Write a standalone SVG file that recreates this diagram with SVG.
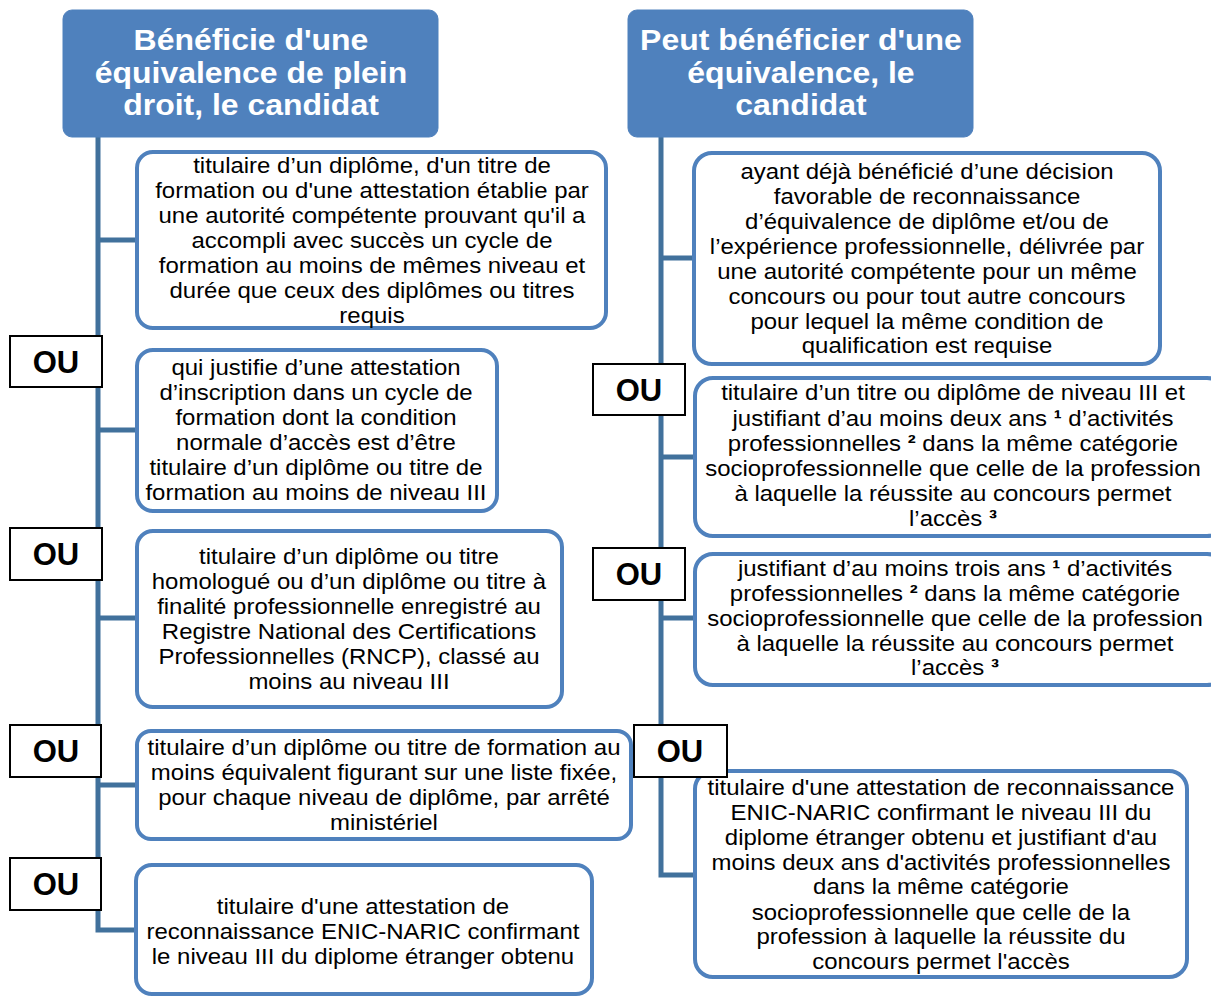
<svg xmlns="http://www.w3.org/2000/svg" width="1211" height="996" viewBox="0 0 1211 996">
<style>
.hdr{fill:#4F81BD;stroke:#4F81BD;stroke-width:1}
.ht{font-family:"Liberation Sans",Arial,sans-serif;font-weight:bold;font-size:30px;fill:#FFFFFF;text-anchor:middle;transform-box:fill-box;transform-origin:center;transform:scaleX(1.065)}
.box{fill:#FFFFFF;stroke:#4F81BD;stroke-width:4}
.bt{font-family:"Liberation Sans",Arial,sans-serif;font-size:22px;fill:#000000;text-anchor:middle;transform-box:fill-box;transform-origin:center;transform:scaleX(1.09)}
.ou{fill:#FFFFFF;stroke:#000000;stroke-width:2}
.ot{font-family:"Liberation Sans",Arial,sans-serif;font-weight:bold;font-size:31px;fill:#000000;text-anchor:middle}
.con{fill:none;stroke:#41719C;stroke-width:5}
.sup{font-weight:bold}
</style>
<rect width="1211" height="996" fill="#FFFFFF"/>
<g id="connectors">
<path class="con" d="M98,137 V930 H137"/>
<path class="con" d="M98,240 H137 M98,430 H137 M98,618 H137 M98,785 H137"/>
<path class="con" d="M661,137 V875 H694"/>
<path class="con" d="M661,258 H694 M661,457 H694 M661,618 H694"/>
</g>
<g id="header-left">
<rect class="hdr" x="63" y="10" width="375" height="127" rx="9"/>
<text class="ht" x="251" y="50">Bénéficie d'une</text>
<text class="ht" x="251" y="83">équivalence de plein</text>
<text class="ht" x="251" y="115">droit, le candidat</text>
</g>
<g id="header-right">
<rect class="hdr" x="628" y="10" width="345" height="127" rx="9"/>
<text class="ht" x="801" y="50">Peut bénéficier d'une</text>
<text class="ht" x="801" y="83">équivalence, le</text>
<text class="ht" x="801" y="115">candidat</text>
</g>
<g id="left-1">
<rect class="box" x="137" y="152" width="469" height="176" rx="16"/>
<text class="bt" x="372" y="173">titulaire d’un diplôme, d'un titre de</text>
<text class="bt" x="372" y="198">formation ou d'une attestation établie par</text>
<text class="bt" x="372" y="223">une autorité compétente prouvant qu'il a</text>
<text class="bt" x="372" y="248">accompli avec succès un cycle de</text>
<text class="bt" x="372" y="273">formation au moins de mêmes niveau et</text>
<text class="bt" x="372" y="298">durée que ceux des diplômes ou titres</text>
<text class="bt" x="372" y="323">requis</text>
</g>
<g id="ou-l1">
<rect class="ou" x="10" y="336" width="92" height="51"/>
<text class="ot" x="56" y="373">OU</text>
</g>
<g id="left-2">
<rect class="box" x="137" y="350" width="360" height="161" rx="16"/>
<text class="bt" x="316" y="375">qui justifie d’une attestation</text>
<text class="bt" x="316" y="400">d’inscription dans un cycle de</text>
<text class="bt" x="316" y="425">formation dont la condition</text>
<text class="bt" x="316" y="450">normale d’accès est d’être</text>
<text class="bt" x="316" y="475">titulaire d’un diplôme ou titre de</text>
<text class="bt" x="316" y="500">formation au moins de niveau III</text>
</g>
<g id="ou-l2">
<rect class="ou" x="10" y="528" width="92" height="52"/>
<text class="ot" x="56" y="565">OU</text>
</g>
<g id="left-3">
<rect class="box" x="137" y="531" width="425" height="176" rx="16"/>
<text class="bt" x="349" y="564">titulaire d’un diplôme ou titre</text>
<text class="bt" x="349" y="589">homologué ou d’un diplôme ou titre à</text>
<text class="bt" x="349" y="614">finalité professionnelle enregistré au</text>
<text class="bt" x="349" y="639">Registre National des Certifications</text>
<text class="bt" x="349" y="664">Professionnelles (RNCP), classé au</text>
<text class="bt" x="349" y="689">moins au niveau III</text>
</g>
<g id="ou-l3">
<rect class="ou" x="10" y="725" width="91" height="52"/>
<text class="ot" x="56" y="762">OU</text>
</g>
<g id="left-4">
<rect class="box" x="137" y="731" width="494" height="108" rx="14"/>
<text class="bt" x="384" y="755">titulaire d’un diplôme ou titre de formation au</text>
<text class="bt" x="384" y="780">moins équivalent figurant sur une liste fixée,</text>
<text class="bt" x="384" y="805">pour chaque niveau de diplôme, par arrêté</text>
<text class="bt" x="384" y="830">ministériel</text>
</g>
<g id="ou-l4">
<rect class="ou" x="10" y="858" width="91" height="52"/>
<text class="ot" x="56" y="895">OU</text>
</g>
<g id="left-5">
<rect class="box" x="136" y="865" width="456" height="129" rx="16"/>
<text class="bt" x="363" y="914">titulaire d'une attestation de</text>
<text class="bt" x="363" y="939">reconnaissance ENIC-NARIC confirmant</text>
<text class="bt" x="363" y="964">le niveau III du diplome étranger obtenu</text>
</g>
<g id="right-1">
<rect class="box" x="694" y="153" width="466" height="211" rx="18"/>
<text class="bt" x="927" y="179">ayant déjà bénéficié d’une décision</text>
<text class="bt" x="927" y="204">favorable de reconnaissance</text>
<text class="bt" x="927" y="229">d’équivalence de diplôme et/ou de</text>
<text class="bt" x="927" y="254">l’expérience professionnelle, délivrée par</text>
<text class="bt" x="927" y="279">une autorité compétente pour un même</text>
<text class="bt" x="927" y="304">concours ou pour tout autre concours</text>
<text class="bt" x="927" y="329">pour lequel la même condition de</text>
<text class="bt" x="927" y="353">qualification est requise</text>
</g>
<g id="ou-r1">
<rect class="ou" x="593" y="364" width="92" height="51"/>
<text class="ot" x="639" y="401">OU</text>
</g>
<g id="right-2">
<rect class="box" x="695" y="378" width="530" height="158" rx="18"/>
<text class="bt" x="953" y="400">titulaire d’un titre ou diplôme de niveau III et</text>
<text class="bt" x="953" y="426">justifiant d’au moins deux ans <tspan class="sup">¹</tspan> d’activités</text>
<text class="bt" x="953" y="451">professionnelles <tspan class="sup">²</tspan> dans la même catégorie</text>
<text class="bt" x="953" y="476">socioprofessionnelle que celle de la profession</text>
<text class="bt" x="953" y="501">à laquelle la réussite au concours permet</text>
<text class="bt" x="953" y="526">l’accès <tspan class="sup">³</tspan></text>
</g>
<g id="ou-r2">
<rect class="ou" x="593" y="548" width="92" height="52"/>
<text class="ot" x="639" y="585">OU</text>
</g>
<g id="right-3">
<rect class="box" x="695" y="554" width="530" height="131" rx="18"/>
<text class="bt" x="955" y="576">justifiant d’au moins trois ans <tspan class="sup">¹</tspan> d’activités</text>
<text class="bt" x="955" y="601">professionnelles <tspan class="sup">²</tspan> dans la même catégorie</text>
<text class="bt" x="955" y="626">socioprofessionnelle que celle de la profession</text>
<text class="bt" x="955" y="651">à laquelle la réussite au concours permet</text>
<text class="bt" x="955" y="675">l’accès <tspan class="sup">³</tspan></text>
</g>
<g id="right-4">
<rect class="box" x="695" y="771" width="492" height="206" rx="18"/>
<text class="bt" x="941" y="795">titulaire d'une attestation de reconnaissance</text>
<text class="bt" x="941" y="820">ENIC-NARIC confirmant le niveau III du</text>
<text class="bt" x="941" y="845">diplome étranger obtenu et justifiant d'au</text>
<text class="bt" x="941" y="870">moins deux ans d'activités professionnelles</text>
<text class="bt" x="941" y="894">dans la même catégorie</text>
<text class="bt" x="941" y="920">socioprofessionnelle que celle de la</text>
<text class="bt" x="941" y="944">profession à laquelle la réussite du</text>
<text class="bt" x="941" y="969">concours permet l'accès</text>
</g>
<g id="ou-r3">
<rect class="ou" x="634" y="725" width="93" height="52"/>
<text class="ot" x="680" y="762">OU</text>
</g>
</svg>
